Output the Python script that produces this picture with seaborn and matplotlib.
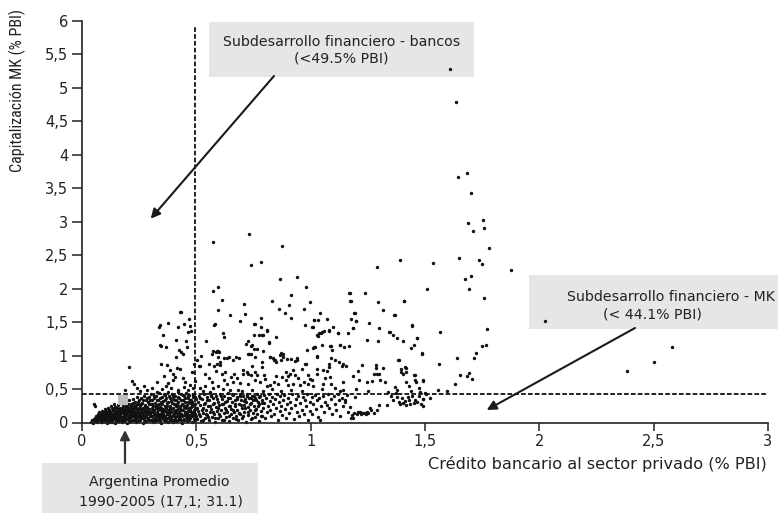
import matplotlib
matplotlib.use("Agg")
import matplotlib.pyplot as plt
import seaborn as sns
import pandas as pd
from matplotlib.patches import Rectangle
from matplotlib.ticker import FuncFormatter
from matplotlib import font_manager

# ---------------- data ----------------
bank_threshold = 0.495   # 49.5% PBI
mk_threshold = 0.43      # 44.1% PBI line as drawn
argentina_x = [0.178]
argentina_y = [0.335]

xticks = [0, 0.5, 1, 1.5, 2, 2.5, 3]
yticks = [0, 0.5, 1, 1.5, 2, 2.5, 3, 3.5, 4, 4.5, 5, 5.5, 6]

dense_left = [
(0.040,0.01),(0.045,0.03),(0.048,0.00),(0.052,0.05),(0.052,0.28),(0.055,0.24),(0.056,0.02),(0.058,0.07),(0.060,0.04),(0.063,0.10),
(0.065,0.01),(0.067,0.06),(0.070,0.12),(0.072,0.03),(0.074,0.08),(0.076,0.15),(0.078,0.05),(0.080,0.10),(0.082,0.01),(0.084,0.13),
(0.086,0.07),(0.088,0.17),(0.090,0.03),(0.092,0.11),(0.094,0.05),(0.096,0.15),(0.098,0.08),(0.100,0.20),(0.101,0.02),(0.103,0.12),
(0.105,0.06),(0.107,0.17),(0.109,0.10),(0.110,0.00),(0.112,0.22),(0.114,0.04),(0.116,0.14),(0.118,0.08),(0.120,0.19),(0.122,0.01),
(0.124,0.11),(0.125,0.25),(0.127,0.06),(0.129,0.16),(0.131,0.03),(0.133,0.21),(0.135,0.09),(0.137,0.13),(0.139,0.27),(0.140,0.05),
(0.142,0.18),(0.144,0.00),(0.146,0.23),(0.148,0.10),(0.150,0.15),(0.152,0.07),(0.154,0.20),(0.156,0.02),(0.158,0.26),(0.160,0.12),
(0.162,0.17),(0.164,0.04),(0.166,0.22),(0.168,0.09),(0.170,0.29),(0.172,0.14),(0.174,0.01),(0.176,0.19),(0.178,0.06),(0.180,0.24),
(0.182,0.11),(0.184,0.16),(0.186,0.03),(0.188,0.30),(0.190,0.08),(0.192,0.21),(0.194,0.13),(0.196,0.00),(0.198,0.26),(0.200,0.18),
(0.202,0.05),(0.204,0.33),(0.206,0.10),(0.208,0.23),(0.210,0.15),(0.212,0.02),(0.214,0.28),(0.216,0.08),(0.218,0.20),(0.220,0.12),
(0.222,0.35),(0.224,0.04),(0.226,0.25),(0.228,0.17),(0.230,0.09),(0.232,0.31),(0.234,0.01),(0.236,0.22),(0.238,0.14),(0.240,0.38),
(0.242,0.06),(0.244,0.27),(0.246,0.19),(0.248,0.11),(0.250,0.33),(0.252,0.03),(0.254,0.24),(0.256,0.16),(0.258,0.08),(0.260,0.36),
(0.262,0.29),(0.264,0.13),(0.266,0.00),(0.268,0.21),(0.270,0.40),(0.272,0.05),(0.274,0.26),(0.276,0.18),(0.278,0.10),(0.280,0.34),
(0.282,0.02),(0.284,0.23),(0.286,0.15),(0.288,0.31),(0.290,0.07),(0.292,0.38),(0.294,0.20),(0.296,0.12),(0.298,0.27),(0.300,0.04),
(0.302,0.42),(0.304,0.17),(0.306,0.33),(0.308,0.09),(0.310,0.24),(0.312,0.01),(0.314,0.36),(0.316,0.14),(0.318,0.29),(0.320,0.06),
(0.322,0.21),(0.324,0.40),(0.326,0.11),(0.328,0.26),(0.330,0.03),(0.332,0.34),(0.334,0.18),(0.336,0.44),(0.338,0.08),(0.340,0.23),
(0.342,0.13),(0.344,0.31),(0.346,0.00),(0.348,0.38),(0.350,0.16),(0.352,0.27),(0.354,0.05),(0.356,0.20),(0.358,0.42),(0.360,0.10),
(0.362,0.33),(0.364,0.24),(0.366,0.02),(0.368,0.36),(0.370,0.14),(0.372,0.29),(0.374,0.07),(0.376,0.45),(0.378,0.19),(0.380,0.39),
(0.382,0.11),(0.384,0.25),(0.386,0.04),(0.388,0.32),(0.390,0.16),(0.392,0.43),(0.394,0.09),(0.396,0.22),(0.398,0.35),(0.400,0.01),
(0.402,0.28),(0.404,0.13),(0.406,0.40),(0.408,0.06),(0.410,0.19),(0.412,0.33),(0.414,0.24),(0.416,0.10),(0.418,0.45),(0.420,0.03),
(0.422,0.30),(0.424,0.15),(0.426,0.37),(0.428,0.21),(0.430,0.08),(0.432,0.42),(0.434,0.12),(0.436,0.27),(0.438,0.00),(0.440,0.34),
(0.442,0.18),(0.444,0.05),(0.446,0.39),(0.448,0.23),(0.450,0.14),(0.452,0.31),(0.454,0.09),(0.456,0.44),(0.458,0.02),(0.460,0.26),
(0.462,0.17),(0.464,0.36),(0.466,0.11),(0.468,0.21),(0.470,0.41),(0.472,0.06),(0.474,0.29),(0.476,0.15),(0.478,0.33),(0.480,0.01),
(0.482,0.24),(0.484,0.38),(0.486,0.10),(0.488,0.19),(0.490,0.43),(0.492,0.04),(0.494,0.28),(0.496,0.13),(0.498,0.35),(0.500,0.22),
(0.081,0.04),(0.085,0.09),(0.089,0.01),(0.093,0.07),(0.097,0.12),(0.102,0.05),(0.106,0.14),(0.111,0.08),(0.115,0.02),(0.119,0.12),
(0.123,0.16),(0.128,0.04),(0.132,0.10),(0.136,0.18),(0.141,0.07),(0.145,0.13),(0.149,0.02),(0.153,0.11),(0.157,0.17),(0.161,0.06),
(0.165,0.13),(0.169,0.20),(0.173,0.08),(0.177,0.15),(0.181,0.02),(0.185,0.10),(0.189,0.18),(0.193,0.05),(0.197,0.14),(0.201,0.22),
(0.205,0.07),(0.209,0.12),(0.213,0.19),(0.217,0.04),(0.221,0.16),(0.225,0.10),(0.229,0.21),(0.233,0.06),(0.237,0.13),(0.241,0.18),
(0.245,0.02),(0.249,0.09),(0.253,0.14),(0.257,0.20),(0.261,0.06),(0.265,0.11),(0.269,0.16),(0.273,0.01),(0.277,0.22),(0.281,0.08),
(0.285,0.13),(0.289,0.19),(0.293,0.04),(0.297,0.10),(0.301,0.15),(0.305,0.21),(0.309,0.05),(0.313,0.12),(0.317,0.18),(0.321,0.02),
(0.325,0.08),(0.329,0.16),(0.333,0.22),(0.337,0.05),(0.341,0.11),(0.345,0.19),(0.349,0.07),(0.353,0.13),(0.357,0.03),(0.361,0.17),
(0.365,0.09),(0.369,0.22),(0.373,0.12),(0.377,0.01),(0.381,0.07),(0.385,0.15),(0.389,0.20),(0.393,0.04),(0.397,0.11),(0.401,0.17),
(0.405,0.08),(0.409,0.25),(0.413,0.02),(0.417,0.14),(0.421,0.20),(0.425,0.06),(0.429,0.12),(0.433,0.18),(0.437,0.09),(0.441,0.26),
(0.445,0.03),(0.449,0.16),(0.453,0.21),(0.457,0.07),(0.461,0.12),(0.465,0.30),(0.469,0.04),(0.473,0.18),(0.477,0.09),(0.481,0.27),
(0.485,0.14),(0.489,0.05),(0.493,0.20),(0.497,0.09),
(0.062,0.02),(0.068,0.09),(0.073,0.05),(0.079,0.11),(0.087,0.04),(0.091,0.14),(0.095,0.02),(0.099,0.10),(0.104,0.16),(0.108,0.03),
(0.113,0.11),(0.117,0.18),(0.121,0.07),(0.126,0.14),(0.130,0.01),(0.134,0.20),(0.138,0.08),(0.143,0.15),(0.147,0.05),(0.151,0.21),
(0.155,0.12),(0.159,0.03),(0.163,0.19),(0.167,0.10),(0.171,0.16),(0.175,0.04),(0.179,0.22),(0.183,0.13),(0.187,0.07),(0.191,0.24),
(0.195,0.16),(0.199,0.09),(0.203,0.27),(0.207,0.01),(0.211,0.17),(0.215,0.24),(0.219,0.09),(0.223,0.29),(0.227,0.13),(0.231,0.03),
(0.235,0.26),(0.239,0.10),(0.243,0.31),(0.247,0.15),(0.251,0.22),(0.255,0.05),(0.259,0.28),(0.263,0.17),(0.267,0.33),(0.271,0.09),
(0.275,0.24),(0.279,0.14),(0.283,0.37),(0.287,0.05),(0.291,0.27),(0.295,0.16),(0.299,0.34),(0.303,0.09),(0.307,0.28),(0.311,0.18),
(0.315,0.40),(0.319,0.11),(0.323,0.25),(0.327,0.33),(0.331,0.13),(0.335,0.28),(0.339,0.02),(0.343,0.37),(0.347,0.22),(0.351,0.10),
(0.355,0.32),(0.359,0.17),(0.363,0.41),(0.367,0.07),(0.371,0.25),(0.375,0.31),(0.379,0.14),(0.383,0.36),(0.387,0.21),(0.391,0.08),
(0.395,0.29),(0.399,0.40),(0.403,0.04),(0.407,0.34),(0.411,0.15),(0.415,0.28),(0.419,0.38),(0.423,0.10),(0.427,0.25),(0.431,0.33),
(0.435,0.04),(0.439,0.19),(0.443,0.41),(0.447,0.11),(0.451,0.36),(0.455,0.25),(0.459,0.15),(0.463,0.40),(0.467,0.08),(0.471,0.33),
(0.475,0.23),(0.479,0.12),(0.483,0.31),(0.487,0.41),(0.491,0.16),(0.495,0.38),(0.499,0.06),
]

low_mid = [
(0.503,0.05),(0.506,0.31),(0.509,0.17),(0.512,0.40),(0.515,0.09),(0.518,0.26),(0.521,0.02),(0.524,0.35),(0.527,0.14),(0.530,0.21),
(0.533,0.43),(0.536,0.07),(0.539,0.29),(0.542,0.18),(0.545,0.38),(0.548,0.11),(0.551,0.24),(0.554,0.03),(0.557,0.33),(0.560,0.15),
(0.563,0.41),(0.566,0.20),(0.569,0.08),(0.572,0.28),(0.575,0.36),(0.578,0.12),(0.581,0.01),(0.584,0.23),(0.587,0.39),(0.590,0.17),
(0.593,0.06),(0.596,0.31),(0.599,0.26),(0.602,0.43),(0.605,0.10),(0.608,0.19),(0.611,0.35),(0.614,0.04),(0.617,0.27),(0.620,0.14),
(0.623,0.40),(0.626,0.22),(0.629,0.08),(0.632,0.32),(0.635,0.16),(0.638,0.44),(0.641,0.02),(0.644,0.25),(0.647,0.37),(0.650,0.12),
(0.653,0.20),(0.656,0.30),(0.659,0.06),(0.662,0.41),(0.665,0.15),(0.668,0.34),(0.671,0.24),(0.674,0.09),(0.677,0.38),(0.680,0.18),
(0.683,0.03),(0.686,0.28),(0.689,0.43),(0.692,0.13),(0.695,0.33),(0.698,0.21),(0.701,0.07),(0.704,0.39),(0.707,0.26),(0.710,0.16),
(0.713,0.35),(0.716,0.01),(0.719,0.30),(0.722,0.42),(0.725,0.11),(0.728,0.23),(0.731,0.36),(0.734,0.19),(0.737,0.05),(0.740,0.29),
(0.743,0.40),(0.746,0.14),(0.749,0.33),(0.752,0.25),(0.755,0.08),(0.758,0.37),(0.761,0.20),(0.764,0.43),(0.767,0.12),(0.770,0.31),
(0.773,0.02),(0.776,0.27),(0.779,0.39),(0.782,0.17),(0.785,0.34),(0.788,0.10),(0.791,0.22),(0.794,0.41),(0.797,0.29),(0.800,0.06),
(0.804,0.36),(0.808,0.15),(0.812,0.25),(0.816,0.42),(0.820,0.19),(0.824,0.32),(0.828,0.09),(0.832,0.38),(0.836,0.27),(0.840,0.13),
(0.844,0.35),(0.848,0.21),(0.852,0.43),(0.856,0.04),(0.860,0.30),(0.864,0.17),(0.868,0.39),(0.872,0.24),(0.876,0.11),(0.880,0.33),
(0.884,0.41),(0.888,0.20),(0.892,0.07),(0.896,0.28),(0.900,0.37),(0.905,0.14),(0.910,0.31),(0.915,0.22),(0.920,0.42),(0.925,0.05),
(0.930,0.26),(0.935,0.35),(0.940,0.16),(0.945,0.40),(0.950,0.09),(0.955,0.29),(0.960,0.19),(0.965,0.38),(0.970,0.12),(0.975,0.33),
(0.980,0.24),(0.985,0.43),(0.990,0.03),(0.995,0.30),(0.998,0.17),
(0.505,0.22),(0.511,0.13),(0.517,0.36),(0.523,0.19),(0.529,0.04),(0.535,0.27),(0.541,0.12),(0.547,0.33),(0.553,0.08),(0.559,0.25),
(0.565,0.39),(0.571,0.16),(0.577,0.29),(0.583,0.06),(0.589,0.35),(0.595,0.21),(0.601,0.12),(0.607,0.40),(0.613,0.27),(0.619,0.03),
(0.625,0.31),(0.631,0.18),(0.637,0.37),(0.643,0.10),(0.649,0.24),(0.655,0.42),(0.661,0.19),(0.667,0.28),(0.673,0.05),(0.679,0.35),
(0.685,0.14),(0.691,0.39),(0.697,0.26),(0.703,0.10),(0.709,0.32),(0.715,0.21),(0.721,0.40),(0.727,0.15),(0.733,0.28),(0.739,0.36),
(0.745,0.07),(0.751,0.40),(0.757,0.18),(0.763,0.33),(0.769,0.24),(0.775,0.38),(0.781,0.09),(0.787,0.29),
]

low_right = [
(1.004,0.38),(1.008,0.12),(1.012,0.27),(1.017,0.41),(1.022,0.20),(1.027,0.33),(1.032,0.08),(1.037,0.36),(1.041,0.04),(1.046,0.25),
(1.052,0.40),(1.058,0.16),(1.064,0.31),(1.070,0.26),(1.076,0.43),(1.082,0.21),(1.088,0.35),(1.094,0.12),(1.100,0.39),(1.106,0.28),
(1.112,0.18),(1.118,0.42),(1.124,0.33),(1.130,0.09),(1.136,0.37),(1.142,0.24),(1.148,0.31),(1.151,0.33),(1.158,0.41),(1.165,0.16),
(1.172,0.23),(1.178,0.07),(1.180,0.11),(1.186,0.06),(1.190,0.14),(1.196,0.38),(1.202,0.12),(1.208,0.15),(1.214,0.15),(1.220,0.13),
(1.226,0.14),(1.232,0.14),(1.240,0.13),(1.246,0.15),(1.252,0.14),(1.258,0.21),(1.266,0.18),(1.275,0.14),(1.288,0.18),(1.300,0.26),
(1.332,0.26),(1.350,0.40),(1.362,0.33),(1.373,0.44),(1.378,0.38),(1.385,0.30),(1.392,0.27),(1.400,0.36),(1.405,0.29),(1.412,0.32),
(1.418,0.26),(1.424,0.38),(1.430,0.33),(1.436,0.27),(1.443,0.40),(1.450,0.29),(1.458,0.34),(1.465,0.31),(1.474,0.39),(1.482,0.28),
(1.490,0.35),(1.493,0.24),(1.505,0.42),(1.520,0.37),
]

upper_left = [
(0.207,0.83),(0.220,0.62),(0.229,0.58),(0.239,0.51),(0.271,0.54),(0.305,0.52),(0.326,0.46),(0.190,0.48),(0.252,0.47),(0.285,0.49),
(0.338,1.43),(0.342,1.45),(0.375,1.48),(0.355,1.30),(0.342,1.16),(0.345,1.14),(0.366,1.13),(0.428,1.65),(0.434,1.65),(0.418,1.43),
(0.448,1.47),(0.468,1.54),(0.472,1.44),(0.410,1.23),(0.425,1.08),(0.440,1.03),(0.411,0.98),(0.432,1.06),(0.456,1.22),(0.458,1.13),
(0.463,1.35),(0.478,1.36),(0.501,0.93),(0.347,0.88),(0.370,0.86),(0.414,0.81),(0.428,0.80),(0.397,0.73),(0.407,0.68),(0.398,0.64),
(0.375,0.59),(0.368,0.55),(0.440,0.67),(0.452,0.61),(0.472,0.56),(0.350,0.50),(0.390,0.52),(0.420,0.49),(0.445,0.53),(0.465,0.48),
(0.485,0.51),(0.495,0.62),(0.330,0.60),(0.360,0.70),(0.385,0.78),(0.480,0.75),(0.490,0.88),
]

upper_mid = [
(0.512,0.84),(0.519,0.99),(0.541,1.22),(0.571,1.97),(0.596,2.02),(0.614,1.83),(0.596,1.68),(0.582,1.47),(0.578,1.46),(0.615,1.34),
(0.620,1.28),(0.647,1.60),(0.707,1.77),(0.711,1.62),(0.691,1.51),(0.757,1.47),(0.752,1.47),(0.781,1.56),(0.574,1.07),(0.590,1.07),
(0.596,1.07),(0.568,1.03),(0.585,1.05),(0.600,1.05),(0.595,0.98),(0.620,0.97),(0.645,0.98),(0.673,0.98),(0.589,0.88),(0.604,0.86),
(0.633,0.96),(0.662,0.93),(0.686,0.96),(0.725,1.21),(0.732,1.03),(0.745,1.15),(0.765,1.10),(0.717,1.17),(0.738,1.14),(0.750,1.10),
(0.725,1.02),(0.738,1.02),(0.755,0.98),(0.705,0.78),(0.725,0.73),(0.745,0.85),(0.754,1.31),(0.775,1.30),(0.785,1.31),(0.810,1.38),
(0.850,1.28),(0.819,1.20),(0.784,1.43),(0.790,1.30),(0.809,1.37),(0.818,1.19),(0.793,1.07),(0.870,1.04),(0.880,1.02),(0.822,0.98),
(0.841,0.93),(0.847,0.90),(0.869,0.94),(0.895,0.95),(0.915,0.95),(0.940,0.97),(0.933,0.92),(0.976,0.88),(0.982,1.08),(0.738,2.35),
(0.730,2.82),(0.573,2.70),(0.784,2.39),(0.873,2.64),(0.864,2.14),(0.941,2.18),(0.978,2.02),(0.832,1.82),(0.860,1.69),(0.912,1.90),
(0.906,1.75),(0.888,1.64),(0.912,1.56),(0.969,1.69),(0.997,1.80),(0.974,1.46),
(0.517,0.84),(0.557,0.87),(0.577,0.84),(0.603,0.90),(0.586,0.77),(0.611,0.73),(0.625,0.76),(0.665,0.73),(0.705,0.72),(0.720,0.75),
(0.738,0.71),(0.757,0.75),(0.764,0.71),(0.786,0.91),(0.786,0.83),(0.796,0.71),(0.822,0.98),(0.834,0.97),(0.844,0.93),(0.866,1.01),
(0.880,0.98),(0.892,0.76),(0.902,0.69),(0.910,0.72),(0.924,0.78),(0.931,0.71),(0.942,0.94),(0.980,0.88),(0.990,0.71),
(0.567,0.60),(0.596,0.55),(0.632,0.58),(0.662,0.60),(0.691,0.59),(0.727,0.57),(0.757,0.64),(0.778,0.60),(0.808,0.54),(0.822,0.56),
(0.840,0.60),(0.858,0.58),(0.873,0.68),(0.892,0.64),(0.902,0.56),(0.921,0.58),(0.953,0.56),(0.971,0.60),(0.990,0.57),(0.684,0.49),
(0.647,0.48),(0.574,0.51),(0.516,0.51),(0.538,0.54),
(0.530,0.47),(0.560,0.46),(0.615,0.50),(0.700,0.47),(0.745,0.49),(0.790,0.47),(0.830,0.50),(0.870,0.47),(0.915,0.49),(0.960,0.47),
(0.620,0.64),(0.650,0.68),(0.680,0.66),(0.800,0.65),(0.850,0.70),(0.945,0.66),(0.960,0.80),(0.995,0.65),(0.555,0.66),(0.540,0.72),
]

upper_right = [
(1.169,1.94),(1.237,1.94),(1.175,1.82),(1.296,1.80),(1.409,1.82),(1.315,1.68),(1.367,1.61),(1.041,1.63),(1.015,1.53),(1.032,1.53),
(1.073,1.54),(1.191,1.64),(1.176,1.54),(1.198,1.51),(1.183,1.41),(1.256,1.49),(1.009,1.42),(1.096,1.43),(1.079,1.38),(1.048,1.35),
(1.058,1.36),(1.036,1.33),(1.026,1.31),(1.121,1.34),(1.165,1.33),(1.300,1.41),(1.344,1.35),(1.361,1.30),(1.379,1.26),(1.405,1.21),
(1.445,1.44),(1.464,1.26),(1.454,1.16),(1.437,1.11),(1.248,1.23),(1.293,1.22),(1.020,1.13),(1.011,1.11),(1.048,1.16),(1.084,1.14),
(1.094,1.08),(1.128,1.16),(1.147,1.12),(1.166,1.14),(1.029,0.98),(1.091,0.96),(1.107,0.93),(1.126,0.90),(1.140,0.88),(1.155,0.85),
(1.135,0.85),(1.026,0.80),(1.055,0.78),(1.073,0.77),(1.082,0.87),(1.082,0.83),(1.084,0.68),(1.064,0.67),(1.026,0.72),(1.004,0.64),
(1.055,0.58),(1.087,0.57),(1.107,0.51),(1.143,0.60),(1.187,0.69),(1.209,0.77),(1.223,0.86),(1.213,0.63),(1.248,0.60),(1.267,0.62),
(1.275,0.72),(1.286,0.86),(1.291,0.72),(1.300,0.73),(1.286,0.81),(1.303,0.64),(1.318,0.82),(1.325,0.60),(1.387,0.93),(1.393,0.80),
(1.412,0.83),(1.419,0.76),(1.405,0.72),(1.416,0.61),(1.431,0.55),(1.456,0.71),(1.456,0.64),(1.460,0.60),(1.492,0.63),(1.368,0.53),
(1.378,0.48),(1.143,0.48),(1.130,0.47),(1.011,0.55),(1.288,2.32),(1.392,2.43),(1.366,1.60),(1.345,1.35),(1.185,1.41),(1.199,1.51),
(1.192,1.63),(1.170,1.94),(1.171,1.82),(1.033,1.29),(1.080,1.37),(1.121,1.33),(1.013,1.53),(1.007,1.42),(1.045,1.34),(1.016,1.13),
(1.029,0.99),(1.087,1.14),(1.127,1.16),(1.418,0.81),(1.453,0.71),(1.394,0.75),(1.382,0.94),(1.488,1.03),(1.463,1.26),(1.444,1.45),
(1.407,1.81),(1.050,0.50),(1.200,0.50),(1.250,0.47),(1.340,0.46),(1.440,0.47),(1.475,0.52),(1.480,0.45),
]

outliers = [
(1.608,5.28),(1.634,4.78),(1.682,3.73),(1.643,3.67),(1.702,3.42),(1.755,3.03),(1.689,2.98),(1.759,2.91),(1.711,2.86),(1.780,2.61),
(1.650,2.46),(1.533,2.38),(1.737,2.43),(1.748,2.36),(1.876,2.27),(1.676,2.15),(1.701,2.19),(1.509,2.00),(1.692,2.00),(1.759,1.86),
(2.026,1.51),(1.564,1.35),(1.770,1.39),(1.749,1.14),(1.767,1.15),(1.488,1.04),(1.723,1.04),(1.641,0.97),(1.714,0.96),(1.562,0.88),
(1.693,0.74),(1.651,0.71),(1.683,0.70),(1.705,0.65),(1.492,0.62),(1.632,0.57),(1.556,0.49),(1.597,0.47),(1.500,0.44),(1.492,0.35),
(2.580,1.13),(2.502,0.90),(2.384,0.77),
]

# ---------------- figure ----------------
sns.set_theme(style="white")
plt.rcParams["font.family"] = ["DejaVu Sans"]

W, H = 778, 513
fig = plt.figure(figsize=(W / 100, H / 100), dpi=100)
fig.patch.set_facecolor("white")

x0, x1 = 82, 768
y_top, y_bot = 20.7, 422.5
ax = fig.add_axes([x0 / W, (H - y_bot) / H, (x1 - x0) / W, (y_bot - y_top) / H])
ax.patch.set_visible(False)   # let the grey annotation boxes show beneath the points

all_pts = dense_left + low_mid + low_right + upper_left + upper_mid + upper_right + outliers
df = pd.DataFrame(all_pts, columns=["credito", "capitalizacion"])
sns.scatterplot(data=df, x="credito", y="capitalizacion", ax=ax, s=6, color="#111111",
                linewidth=0, legend=False, clip_on=False, zorder=2)

# Argentina average (grey square)
sns.scatterplot(x=argentina_x, y=argentina_y, ax=ax, marker="s", s=48, color="#bdbdbd",
                linewidth=0, legend=False, zorder=3, clip_on=False)

# threshold lines
ax.vlines(bank_threshold, 0, 5.9, colors="#111111", linestyles=(0, (2.6, 1.2)), linewidth=1.3, zorder=1)
ax.hlines(mk_threshold, 0, 2.99, colors="#111111", linestyles=(0, (2.6, 1.2)), linewidth=1.3, zorder=1)

ax.set_xlim(0, 3)
ax.set_ylim(0, 6)
ax.set_xticks(xticks)
ax.set_yticks(yticks)
fmt = FuncFormatter(lambda v, p: f"{v:g}".replace(".", ","))
ax.xaxis.set_major_formatter(fmt)
ax.yaxis.set_major_formatter(fmt)
ax.set_xlabel("")
ax.set_ylabel("")

for s in ["top", "right"]:
    ax.spines[s].set_visible(False)
for s in ["left", "bottom"]:
    ax.spines[s].set_color("#222222")
    ax.spines[s].set_linewidth(1.2)

ax.tick_params(axis="y", left=True, direction="out", length=7.5, width=1.1, pad=2.5,
               labelsize=10.5, colors="#222222")
ax.tick_params(axis="x", bottom=True, direction="out", length=5.5, width=1.1, pad=3,
               labelsize=10.5, colors="#222222")

# axis titles
cond = None
for f in font_manager.fontManager.ttflist:
    if f.name in ("Liberation Sans Narrow", "Roboto Condensed", "Open Sans Condensed"):
        cond = (f.name, None); break
    if f.name == "DejaVu Sans" and str(f.stretch) in ("condensed", "semi-condensed", "75", "87"):
        cond = ("DejaVu Sans", "condensed")
if cond is not None and cond[1] is None:
    ylab_kw = dict(family=[cond[0], "DejaVu Sans"], fontsize=11.5)
elif cond is not None:
    ylab_kw = dict(family=["DejaVu Sans"], fontstretch="condensed", fontsize=10)
else:
    ylab_kw = dict(family=["DejaVu Sans"], fontsize=9)
fig.text(17.5 / W, 1 - 90 / H, "Capitalización MK (% PBI)", rotation=90, ha="center", va="center",
         color="#222222", **ylab_kw)
fig.text(767 / W, 1 - 464 / H, "Crédito bancario al sector privado (% PBI)", ha="right", va="center",
         fontsize=11.6, color="#222222")

# annotation boxes
def box(px0, py0, px1, py1):
    r = Rectangle((px0 / W, 1 - py1 / H), (px1 - px0) / W, (py1 - py0) / H,
                  transform=fig.transFigure, facecolor="#e6e6e6", edgecolor="none", zorder=-1)
    fig.add_artist(r)

def label(px, py, txt, size=10.2):
    fig.text(px / W, 1 - py / H, txt, ha="center", va="center", fontsize=size, color="#222222")

box(209, 22, 474, 77)
label(341.5, 41.5, "Subdesarrollo financiero - bancos")
label(341.5, 58.5, "(<49.5% PBI)")

box(529, 275, 790, 329)
label(671, 297, "Subdesarrollo financiero - MK")
label(652, 314, "(< 44.1% PBI)")

box(42, 463, 258, 520)
label(159, 482, "Argentina Promedio")
label(161, 502, "1990-2005 (17,1; 31.1)")

# arrows (figure pixel coordinates, origin bottom-left)
def arrow(sx, sy, tx, ty, color="#1a1a1a", lw=1.5):
    ax.annotate("", xy=(tx, H - ty), xycoords="figure pixels",
                xytext=(sx, H - sy), textcoords="figure pixels",
                arrowprops=dict(arrowstyle="-|>", color=color, lw=lw, mutation_scale=14,
                                shrinkA=0, shrinkB=0), annotation_clip=False)

arrow(274, 76, 150.7, 218.7)
arrow(635, 328, 486.7, 410)
arrow(125, 463, 125, 430, color="#333333", lw=1.6)

fig.savefig("out.png", dpi=100, facecolor="white")
